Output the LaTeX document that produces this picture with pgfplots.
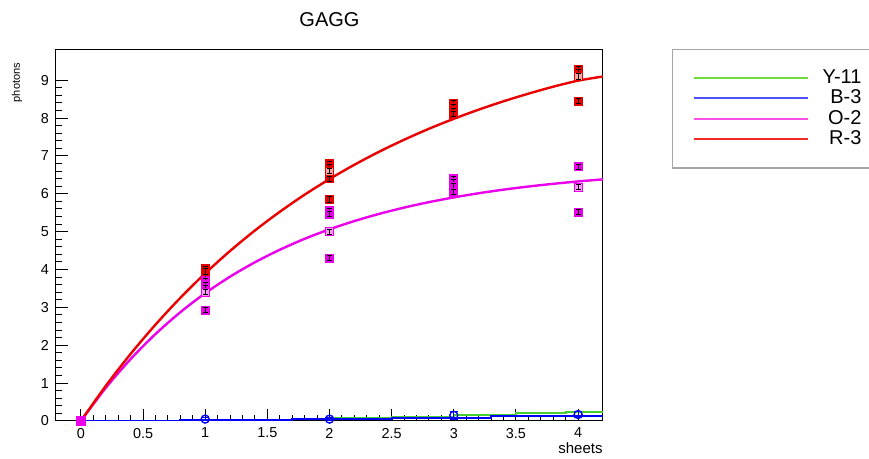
\documentclass[border=0pt]{standalone}
\usepackage{pgfplots}
\pgfplotsset{compat=1.18}
\usepackage{fontspec}
\setmainfont{Liberation Sans}
\definecolor{rgreen}{RGB}{70,205,50}
\definecolor{rblue}{RGB}{0,0,245}
\definecolor{rmag}{RGB}{235,0,235}
\definecolor{rred}{RGB}{235,0,0}
\definecolor{lgreen}{RGB}{110,220,60}
\definecolor{lblue}{RGB}{80,80,250}
\definecolor{lmag}{RGB}{250,80,230}
\definecolor{lred}{RGB}{245,40,40}
\pgfdeclareplotmark{rootsq}{%
  \pgfpathrectangle{\pgfpoint{-\pgfplotmarksize}{-\pgfplotmarksize}}{\pgfpoint{2\pgfplotmarksize}{2\pgfplotmarksize}}%
  \pgfusepathqfillstroke
  \begin{pgfscope}%
  \pgfsetstrokecolor{black}\pgfsetlinewidth{0.45pt}%
  \pgfpathmoveto{\pgfpoint{0pt}{-1.3pt}}\pgfpathlineto{\pgfpoint{0pt}{1.3pt}}%
  \pgfpathmoveto{\pgfpoint{-1.2pt}{1.3pt}}\pgfpathlineto{\pgfpoint{1.2pt}{1.3pt}}%
  \pgfpathmoveto{\pgfpoint{-1.2pt}{-1.3pt}}\pgfpathlineto{\pgfpoint{1.2pt}{-1.3pt}}%
  \pgfusepathqstroke
  \end{pgfscope}%
}
\begin{document}
\begin{tikzpicture}
\useasboundingbox (-28pt,-19pt) rectangle (406.5pt,210.5pt);
\begin{axis}[
 width=273.5pt, height=185.5pt, scale only axis,
 xmin=-0.2, xmax=4.2, ymin=0, ymax=9.8,
 axis line style={black, line width=0.5pt},
 xtick={0,0.5,1,1.5,2,2.5,3,3.5,4}, ytick={0,1,2,3,4,5,6,7,8,9},
 minor x tick num=4, minor y tick num=4,
 xtick pos=bottom, ytick pos=left,
 tick align=inside,
 major tick length=6pt, minor tick length=3pt,
 tick style={black, line width=0.5pt},
 ticklabel style={font=\fontsize{7.2}{8}\selectfont},
 /pgf/number format/assume math mode=true,
 title={GAGG},
 title style={font=\fontsize{10}{12}\selectfont, at={(axis description cs:0.5,1)}, anchor=center, yshift=9pt},
 xlabel={sheets},
 xlabel style={font=\fontsize{7.5}{9}\selectfont, at={(axis description cs:1,-0.073)}, anchor=east, inner sep=0pt},
 ylabel={photons},
 ylabel style={font=\fontsize{5.5}{7}\selectfont, at={(axis description cs:-0.0713,0.984)}, anchor=east},
 legend image code/.code={\draw[line width=1pt,#1] (0pt,0pt) -- (57pt,0pt);},
 legend cell align=right,
 legend style={at={(axis description cs:1.126,1.003)}, anchor=north west,
   draw=gray!70, line width=0.6pt, font=\fontsize{10}{12}\selectfont,
   inner xsep=10pt, inner ysep=10pt, row sep=1.8pt, column sep=7pt,
   nodes={inner sep=0pt}},
 clip=true,
]
% green step line
\addplot[forget plot, const plot, rgreen, line width=1pt] coordinates {
 (0,0) (0.8,0.02) (1.7,0.06) (2.0,0.08) (2.5,0.11) (3.0,0.15) (3.5,0.2) (3.9,0.25) (4.2,0.25)};
% blue step line
\addplot[forget plot, const plot, rblue, line width=1.1pt] coordinates {
 (0,0) (0.8,0.02) (1.7,0.05) (2.5,0.08) (3.3,0.13) (4.2,0.15)};

% blue points
\addplot[forget plot, only marks, mark=o, rblue, mark size=2pt, line width=0.7pt,
 error bars/.cd, y dir=both, y explicit, error bar style={rblue, line width=0.6pt}]
 coordinates {(1,0.05) +- (0,0.04) (2,0.05) +- (0,0.04) (3,0.15) +- (0,0.1) (4,0.17) +- (0,0.08)};

% magenta filled points
\addplot[forget plot, only marks, mark=rootsq, mark size=2pt, mark options={draw=rmag, fill=rmag}]
 coordinates {
 (1,3.8) (1,3.7) (1,3.6) (1,3.5) (1,2.93)
 (2,5.55) (2,5.46) (2,4.3)
 (3,6.4) (3,6.3) (3,6.2) (3,6.05)
 (4,6.72) (4,5.52)};
% magenta open points
\addplot[forget plot, only marks, mark=rootsq, mark size=2pt, mark options={draw=rmag, fill=rmag!40}]
 coordinates {(1,3.4) (2,5.0) (4,6.18)};

% red filled points
\addplot[forget plot, only marks, mark=rootsq, mark size=2pt, mark options={draw=rred, fill=rred}]
 coordinates {
 (1,4.02) (1,3.95)
 (2,6.8) (2,6.72) (2,6.4) (2,5.85)
 (3,8.4) (3,8.3) (3,8.2) (3,8.1)
 (4,9.3) (4,9.22) (4,8.45)};
% red open points
\addplot[forget plot, only marks, mark=rootsq, mark size=2pt, mark options={draw=rred, fill=rred!35}]
 coordinates {(2,6.6) (4,9.1)};

% magenta fit curve
\addplot[forget plot, smooth, rmag, line width=1.2pt] coordinates {
 (0,0) (0.2,0.873) (0.4,1.634) (0.6,2.296) (0.8,2.873) (1.0,3.375) (1.2,3.812) (1.4,4.192)
 (1.6,4.523) (1.8,4.812) (2.0,5.063) (2.2,5.281) (2.4,5.471) (2.6,5.637) (2.8,5.781)
 (3.0,5.906) (3.2,6.016) (3.4,6.111) (3.6,6.193) (3.8,6.265) (4.0,6.328) (4.2,6.383)};
% red fit curve
\addplot[forget plot, smooth, rred, line width=1.2pt] coordinates {
 (0,0) (0.2,0.926) (0.4,1.771) (0.6,2.544) (0.8,3.252) (1.0,3.899) (1.2,4.491) (1.4,5.032)
 (1.6,5.525) (1.8,5.978) (2.0,6.390) (2.2,6.768) (2.4,7.114) (2.6,7.429) (2.8,7.719)
 (3.0,7.982) (3.2,8.224) (3.4,8.445) (3.6,8.646) (3.8,8.831) (4.0,8.990) (4.2,9.10)};
% marker at origin
\addplot[forget plot, only marks, mark=square*, mark size=2.2pt, mark options={draw=rmag, fill=rmag}]
 coordinates {(0,0)};

\addlegendimage{lgreen}
\addlegendentry{Y-11}
\addlegendimage{lblue}
\addlegendentry{B-3}
\addlegendimage{lmag}
\addlegendentry{O-2}
\addlegendimage{lred}
\addlegendentry{R-3}
\end{axis}
\end{tikzpicture}
\end{document}
